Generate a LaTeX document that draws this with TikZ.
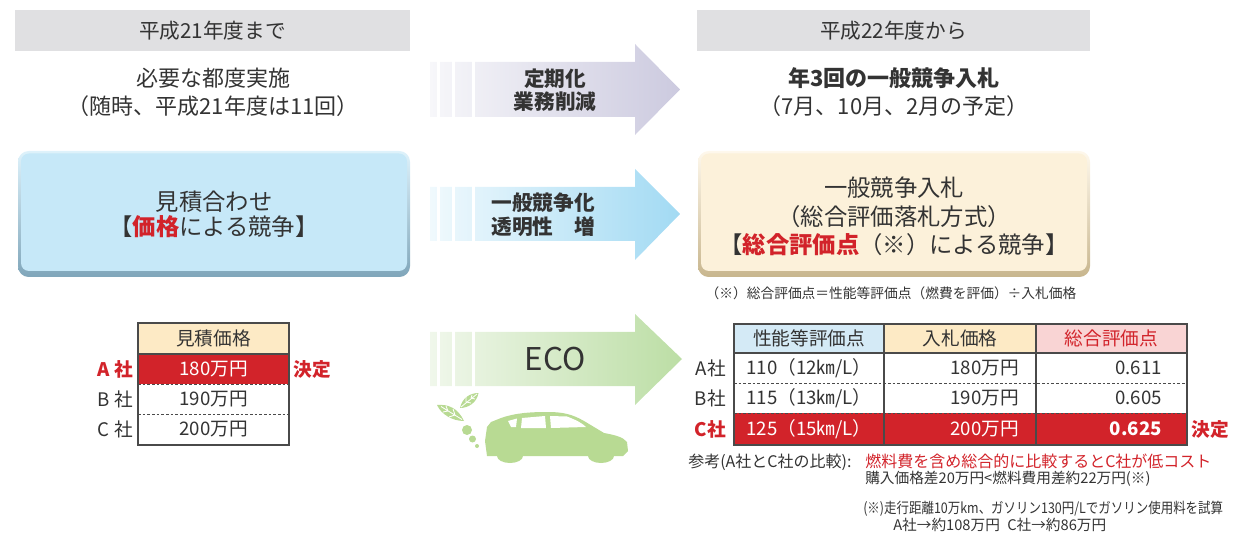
\documentclass[tikz,border=0pt]{standalone}
\usepackage{fontspec}
\setmainfont{Noto Sans CJK JP}
\newfontfamily\narrowjp[FakeStretch=0.85]{Noto Sans CJK JP}

\definecolor{txt}{HTML}{333333}
\definecolor{hdrgray}{HTML}{E0E0E2}
\definecolor{jred}{HTML}{D2232A}
\definecolor{carg}{HTML}{B8DA93}
\definecolor{cream}{HTML}{FDEAC5}
\definecolor{skyhd}{HTML}{D4EAF6}
\definecolor{pinkhd}{HTML}{F9D4D4}
\definecolor{tabgray}{HTML}{4A4A4A}
\definecolor{boxblue}{RGB}{198,232,248}
\definecolor{boxbluetop}{RGB}{222,242,251}
\definecolor{boxblueedge}{RGB}{128,166,186}
\definecolor{boxcream}{RGB}{252,241,218}
\definecolor{boxcreamtop}{RGB}{254,248,236}
\definecolor{boxcreamedge}{RGB}{200,182,142}
\definecolor{arwlav}{RGB}{204,202,223}
\definecolor{arwlavl}{RGB}{247,247,250}
\definecolor{arwsky}{RGB}{162,218,243}
\definecolor{arwskyl}{RGB}{240,249,253}
\definecolor{arwgrn}{RGB}{188,222,165}
\definecolor{arwgrnl}{RGB}{240,247,235}

\tikzset{
  lbl/.style={inner sep=0pt, text=txt},
  hdrtext/.style={lbl, font=\fontsize{15.5}{18}\selectfont},
  bigtext/.style={lbl, font=\fontsize{16.5}{19}\selectfont},
  boxtext/.style={lbl, font=\fontsize{17.5}{20}\selectfont},
  arrowtext/.style={lbl, font=\fontsize{15.5}{18}\selectfont\bfseries},
  tabtext/.style={lbl, font=\fontsize{14}{16}\selectfont},
  redbold/.style={text=jred, font=\fontsize{14}{16}\selectfont\bfseries},
  notetext/.style={lbl, anchor=base west, font=\fontsize{11}{13}\selectfont},
  tabline/.style={draw=tabgray, line width=0.9pt},
  dashline/.style={draw=tabgray, line width=0.6pt, dash pattern=on 2pt off 1.5pt},
  gapbar/.style={fill=white},
}

\begin{document}
\begin{tikzpicture}[x=0.75pt, y=-0.75pt]
\useasboundingbox (0,0) rectangle (1234,534);

% ---------- period headers ----------
\fill[hdrgray] (15,10) rectangle (410,51);
\fill[hdrgray] (697,10) rectangle (1090,51);
\node[hdrtext] (hleft) at (212.5,30.5) {平成21年度まで};
\node[hdrtext] (hright) at (893.5,30.5) {平成22年度から};

% ---------- schedule texts ----------
\node[bigtext] (oldA) at (213,78) {必要な都度実施};
\node[bigtext] (oldB) at (213,106) {（随時、平成21年度は11回）};
\node[bigtext, font=\fontsize{16.5}{19}\selectfont\bfseries] (newA) at (894,78) {年3回の一般競争入札};
\node[bigtext] (newB) at (894,106) {（7月、10月、2月の予定）};

% ---------- arrows ----------
% arrow 1: periodic, less work
\shade[left color=arwlavl, right color=arwlav]
  (430,62) -- (635,62) -- (635,44) -- (680,89.5) -- (635,135) -- (635,117) -- (430,117) -- cycle;
% arrow 2: open competition
\shade[left color=arwskyl, right color=arwsky]
  (430,187) -- (635,187) -- (635,169) -- (680,214) -- (635,260) -- (635,241) -- (430,241) -- cycle;
% arrow 3: eco
\shade[left color=arwgrnl, right color=arwgrn]
  (430,332) -- (635,332) -- (635,314) -- (682,359) -- (635,405) -- (635,386) -- (430,386) -- cycle;
% white gaps forming the stripes at the arrow tails
\foreach \ya/\yb in {62/117, 187/241, 332/386}{
  \fill[gapbar] (437,\ya-1) rectangle (439.5,\yb+1);
  \fill[gapbar] (452,\ya-1) rectangle (455,\yb+1);
  \fill[gapbar] (471.5,\ya-1) rectangle (475,\yb+1);
}
\node[arrowtext] (arA1) at (555,79) {定期化};
\node[arrowtext] (arA2) at (555,102) {業務削減};
\node[arrowtext] (arB1) at (543,203) {一般競争化};
\node[arrowtext] (arB2) at (543,227) {透明性\quad 増};
\node[lbl, font=\fontsize{23.5}{26}\selectfont] (eco) at (555,359) {ECO};

% ---------- eco car with leaves ----------
\fill[carg] (487,456) -- (485,441) -- (487,427) -- (491,422) -- (501,418)
  .. controls (515,413) and (530,412) .. (548,412)
  .. controls (562,412) and (572,414) .. (584,421)
  -- (604,433) .. controls (615,435) and (623,437) .. (627,442)
  -- (628,451) -- (623,456) -- (614,456)
  arc[start angle=0, end angle=180, x radius=13, y radius=7]
  -- (523,456)
  arc[start angle=0, end angle=180, x radius=13, y radius=7]
  -- cycle;
% windows
\fill[white] (508,421) -- (517,418.5) -- (516,427) -- (511,427) -- cycle;
\fill[white] (522,418) -- (545,416) -- (546,428) -- (521,428) -- cycle;
\fill[white] (550,416) -- (567,416.5) .. controls (576,420) and (582,423) .. (586,427) -- (551,428) -- cycle;
% exhaust bubbles
\fill[carg] (467,430) circle (5);
\fill[carg] (472.5,439) circle (3.5);
\fill[carg] (477,446) circle (2);
% leaves
\fill[carg] (464,421) .. controls (458,408) and (448,404) .. (437,405)
  .. controls (441,414) and (452,421) .. (464,421) -- cycle;
\draw[white, line width=0.6pt] (462,419.5) -- (441,406.5)
  (448,411) -- (446,406) (448,411) -- (443,412)
  (455,415) -- (453,409) (455,415) -- (449,417);
\fill[carg] (460,408) .. controls (462,398) and (470,393) .. (478.5,393)
  .. controls (477,402) and (469,408) .. (460,408) -- cycle;
\draw[white, line width=0.6pt] (461,407) -- (477,394)
  (466,402) -- (466,397) (466,402) -- (471,403)
  (471,398) -- (472,395) (471,398) -- (475,399);

% ---------- competition boxes ----------
\shade[rounded corners=8pt, top color=boxbluetop, bottom color=boxblueedge] (18,151) rectangle (410,277);
\fill[rounded corners=6pt, boxblue] (21,153.5) rectangle (407,271);
\node[boxtext] (boxL1) at (214,202) {見積合わせ};
\node[boxtext] (boxL2) at (214,227) {【\textcolor{jred}{\bfseries 価格}による競争】};

\shade[rounded corners=8pt, top color=boxcreamtop, bottom color=boxcreamedge] (698,151) rectangle (1090,277);
\fill[rounded corners=6pt, boxcream] (701,153.5) rectangle (1087,271);
\node[boxtext] (boxR1) at (894,188) {一般競争入札};
\node[boxtext] (boxR2) at (894,217) {（総合評価落札方式）};
\node[boxtext] (boxR3) at (894,245) {【\textcolor{jred}{\bfseries 総合評価点}（※）による競争】};
\node[lbl, font=\fontsize{10.3}{12}\selectfont] (formula) at (891,293)
  {（※）総合評価点＝性能等評価点（燃費を評価）÷入札価格};

% ---------- left table: quotation prices ----------
\fill[cream] (138,323) rectangle (289,354);
\fill[jred] (138,354) rectangle (289,384);
\path[dashline] (138,384) -- (289,384);
\path[dashline] (138,414) -- (289,414);
\path[tabline] (138,354) -- (289,354);
\path[tabline] (138,323) rectangle (289,445);
\node[tabtext] (lh) at (213.5,338.5) {見積価格};
\node[tabtext, text=white] (lA) at (213.5,369) {180万円};
\node[tabtext] (lB) at (213.5,399) {190万円};
\node[tabtext] (lC) at (213.5,429.5) {200万円};
\node[tabtext, redbold, anchor=east] (lAn) at (133,369) {A 社};
\node[tabtext, anchor=east] (lBn) at (133,399) {B 社};
\node[tabtext, anchor=east] (lCn) at (133,429.5) {C 社};
\node[tabtext, redbold] (lwin) at (312,369) {決定};

% ---------- right table: overall evaluation ----------
\fill[skyhd] (734,324) rectangle (884,353);
\fill[cream] (884,324) rectangle (1036,353);
\fill[pinkhd] (1036,324) rectangle (1187,353);
\fill[jred] (734,413) rectangle (1187,445);
\path[dashline] (734,383) -- (1187,383);
\path[dashline] (734,413) -- (1187,413);
\path[tabline] (734,353) -- (1187,353);
\path[tabline] (884,324) -- (884,445) (1036,324) -- (1036,445);
\path[tabline] (734,324) rectangle (1187,445);

\node[tabtext] (rh1) at (809,338.5) {性能等評価点};
\node[tabtext] (rh2) at (960,338.5) {入札価格};
\node[tabtext, text=jred] (rh3) at (1111.5,338.5) {総合評価点};

\node[tabtext] (rA1) at (809,368) {110（12㎞/L）};
\node[tabtext, anchor=east] (rA2) at (1019,368) {180万円};
\node[tabtext, anchor=east] (rA3) at (1162,368) {0.611};
\node[tabtext] (rB1) at (809,398) {115（13㎞/L）};
\node[tabtext, anchor=east] (rB2) at (1019,398) {190万円};
\node[tabtext, anchor=east] (rB3) at (1162,398) {0.605};
\node[tabtext, text=white] (rC1) at (809,429) {125（15㎞/L）};
\node[tabtext, text=white, anchor=east] (rC2) at (1019,429) {200万円};
\node[tabtext, text=white, anchor=east, font=\fontsize{14}{16}\selectfont\bfseries] (rC3) at (1162,429) {0.625};

\node[tabtext, anchor=east] (rAn) at (726,368) {A社};
\node[tabtext, anchor=east] (rBn) at (726,398) {B社};
\node[tabtext, redbold, anchor=east] (rCn) at (726,429) {C社};
\node[tabtext, redbold] (rwin) at (1210,429) {決定};

% ---------- reference notes ----------
\node[notetext, font=\fontsize{12}{14}\selectfont] (refA) at (688,467)
  {参考(A社とC社の比較):};
\node[notetext, text=jred, font=\fontsize{12}{14}\selectfont] (refB) at (865,467)
  {燃料費を含め総合的に比較するとC社が低コスト};
\node[notetext] (refC) at (865,483)
  {購入価格差20万円<燃料費用差約22万円(※)};
\node[notetext, font=\narrowjp\fontsize{11}{13}\selectfont] (refD) at (863,513)
  {(※)走行距離10万km、ガソリン130円/Lでガソリン使用料を試算};
\node[notetext] (refE) at (893,530)
  {A社→約108万円\enspace C社→約86万円};
\end{tikzpicture}
\end{document}
